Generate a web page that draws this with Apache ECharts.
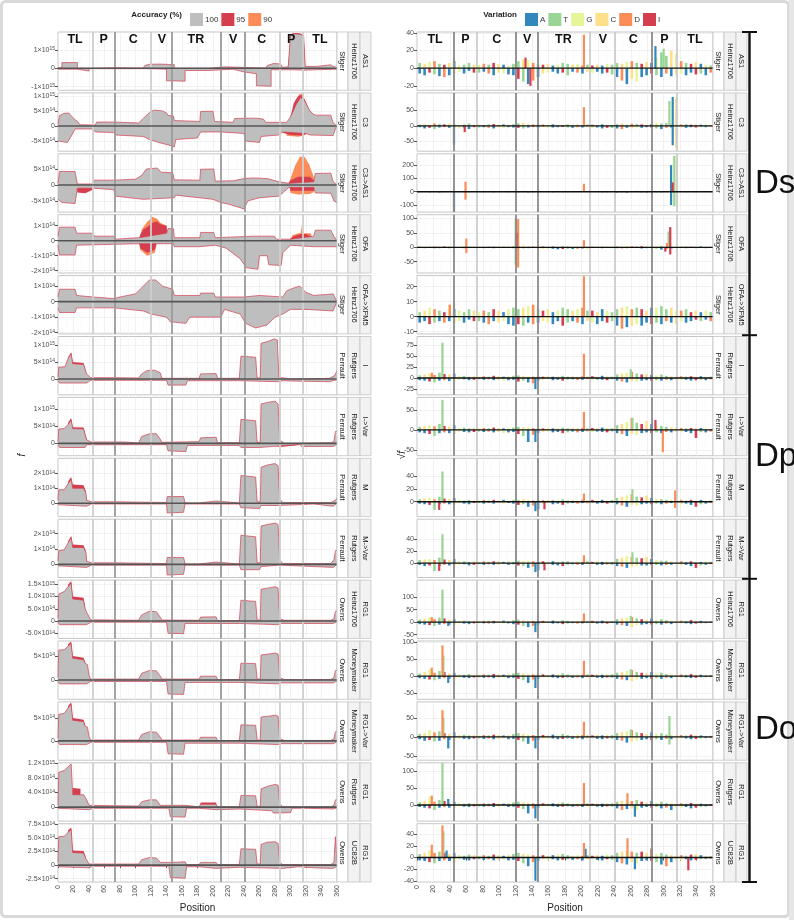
<!DOCTYPE html>
<html><head><meta charset="utf-8">
<script src="https://cdn.jsdelivr.net/npm/echarts@6/dist/echarts.min.js"></script>
<style>html,body{margin:0;padding:0;background:#fff}#c{width:794px;height:920px}</style>
</head><body><div id="c"></div><script>
// ---------------- DATA ----------------
const stripInner = ['Stiger','Stiger','Stiger','Stiger','Stiger','Perrault','Perrault','Perrault','Perrault','Owens','Owens','Owens','Owens','Owens'];
const stripMid = ['Heinz1706','Heinz1706','Heinz1706','Heinz1706','Heinz1706','Rutgers','Rutgers','Rutgers','Rutgers','Heinz1706','Moneymaker','Moneymaker','Rutgers','UC82B'];
const stripOuter = ['AS1','C3','C3->AS1','OFA','OFA->XFM5','I','I->Var','M','M->Var','RG1','RG1','RG1->Var','RG1','RG1'];
const groupNames = ['Ds','Dp','Do'];
const groupSizes = [5,4,5];
const regionNames = ['TL','P','C','V','TR','V','C','P','TL'];
const regionCenters = [22,59,97,134,178,226,263,301,338];
const boundsDarkL = [73,147,210,241], boundsLightL = [45,120,286,316];
const boundsDarkR = [45,120,147,286], boundsLightR = [73,210,241,316];
const accuracyLevels = ['100','95','90'];
const variationTypes = ['A','T','G','C','D','I'];

// left panels: f in units of 1e14
const leftRange = [[-12,19.8],[-8.4,11],[-8.5,9.75],[-2.15,1.73],[-2.08,1.68],[-4.65,12.5],[-3.6,13.4],[-0.89,3.0],[-0.86,2.95],[-7.1,16.7],[-4.0,8.1],[-4.2,8.5],[-3.8,12.1],[-3.1,7.6]];
const leftTickVals = [[-10,0,10],[-5,0,5,10],[-5,0,5],[-2,-1,0,1],[-2,-1,0,1],[0,5,10],[0,5,10],[0,1,2],[0,1,2],[-5,0,5,10,15],[0,5],[0,5],[0,4,8,12],[-2.5,0,2.5,5,7.5]];
const leftTickText = [
 ['-1×10^15','0','1×10^15'],['-5×10^14','0','5×10^14','1×10^15'],['-5×10^14','0','5×10^14'],
 ['-2×10^14','-1×10^14','0','1×10^14'],['-2×10^14','-1×10^14','0','1×10^14'],
 ['0','5×10^14','1×10^15'],['0','5×10^14','1×10^15'],['0','1×10^14','2×10^14'],['0','1×10^14','2×10^14'],
 ['-5.0×10^14','0','5.0×10^14','1.0×10^15','1.5×10^15'],['0','5×10^14'],['0','5×10^14'],
 ['0','4.0×10^14','8.0×10^14','1.2×10^15'],['-2.5×10^14','0','2.5×10^14','5.0×10^14','7.5×10^14']];

const upper100 = [
 [[0,0.3],[5,0.3],[5,3.1],[25,3.1],[25,0],[40,0],[40,0.3],[75,0.3],[75,0.1],[110,0.1],[112,1.5],[118,2.2],[130,2.3],[150,2.0],[150,0],[195,0],[195,0.8],[215,0.8],[215,0.1],[268,0.1],[270,1.5],[278,2.6],[287,2.4],[290,0.5],[297,0.8],[300,18],[304,18.8],[312,18.6],[317,17.5],[319,1.0],[333,1.0],[333,1.8],[352,1.9],[355,1.0],[358,0.8],[360,0]],
 [[0,0.5],[2,3.5],[8,4.2],[14,4.3],[20,2.5],[26,1.3],[28,0.4],[48,0.3],[50,1.3],[72,1.3],[74,0.9],[104,1.0],[110,2.5],[118,4.5],[124,5.3],[135,5.0],[140,4.3],[142,3.5],[149,3.3],[150,1.8],[183,1.5],[184,4.8],[200,4.9],[202,1.5],[226,1.2],[228,2.5],[252,2.6],[255,2.6],[265,2.3],[268,1.2],[295,1.2],[300,3],[307,7],[313,9.5],[318,8.5],[325,5],[330,3.8],[333,3.6],[352,3.6],[355,1],[358,0.5],[360,0]],
 [[0,0.5],[2,4.2],[22,4.2],[25,0.3],[45,0.3],[47,1.5],[72,1.5],[100,1.8],[108,3],[114,5],[128,5.3],[133,4],[148,3.8],[150,1.6],[183,1.5],[184,4.9],[201,5.0],[203,1.2],[226,1.3],[240,2],[252,2.2],[270,2],[285,1],[298,0.5],[300,1],[330,1],[332,3.6],[352,3.7],[355,1.0],[360,0]],
 [[0,0.3],[2,0.9],[22,0.9],[24,0.5],[45,0.5],[47,0.3],[72,0.3],[74,0.1],[104,0.2],[140,0.5],[142,0.8],[149,0.8],[150,0.2],[183,0.2],[184,0.55],[201,0.55],[203,0.2],[252,0.3],[279,0.3],[282,0.1],[300,0.1],[330,0.3],[332,0.7],[352,0.7],[356,0.3],[360,0]],
 [[0,0.3],[2,0.8],[22,0.8],[24,0.4],[45,0.3],[72,0.2],[80,0.3],[100,0.5],[110,1.0],[118,1.4],[126,1.4],[135,1.0],[148,0.8],[150,0.4],[183,0.4],[184,0.55],[201,0.55],[203,0.3],[240,0.3],[260,0.4],[290,0.3],[295,0.7],[305,0.9],[312,1.0],[320,0.6],[330,0.4],[355,0.5],[360,0]],
 [[0,0.5],[1,3.5],[9,3.6],[13,6],[17,7.5],[19,7.8],[19,4.5],[33,4.3],[37,1.5],[42,0.4],[72,0.4],[74,0.3],[104,0.3],[108,1.5],[115,2.5],[125,2.6],[132,1.8],[134,0.2],[182,0.2],[184,1.5],[204,1.6],[206,0.2],[234,0.2],[236,6.7],[255,6.4],[257,0.3],[261,0.3],[262,10.5],[270,11],[279,11.8],[283,11.5],[285,0.5],[300,0],[350,0.2],[357,1],[360,2.5]],
 [[0,0.5],[1,4.2],[8,4.3],[13,5.5],[17,6.8],[19,7.2],[19,4.3],[33,4.2],[37,1.0],[43,0.4],[86,0.4],[88,0.1],[104,0.1],[108,2.0],[118,2.8],[127,2.8],[132,1.2],[134,0.3],[182,0.5],[184,1.6],[204,1.8],[206,0.2],[234,0.2],[236,7.0],[255,6.6],[257,0.3],[261,0.3],[262,11.5],[272,12],[280,12.3],[284,11.5],[286,1],[292,0],[312,0],[314,0.2],[352,0.2],[356,0.5],[358,3.5],[360,3.5]],
 [[0,0.2],[1,0.9],[8,0.9],[13,1.3],[17,1.6],[19,1.65],[19,1.0],[33,1.0],[36,0.7],[37,0.2],[43,0.1],[72,0.1],[74,0.05],[140,0.05],[141,0.45],[162,0.45],[164,0.02],[182,0.02],[184,0.15],[204,0.15],[206,0.02],[234,0.02],[236,1.85],[255,1.75],[257,0.1],[261,0.1],[262,2.4],[270,2.55],[280,2.65],[284,2.5],[286,0.3],[290,0.05],[352,0.05],[358,0.2],[360,0.35]],
 [[0,0.2],[1,0.9],[8,0.95],[13,1.4],[17,1.75],[19,1.8],[19,1.1],[33,1.1],[36,0.8],[37,0.2],[43,0.1],[72,0.1],[74,0.05],[140,0.05],[141,0.45],[162,0.45],[164,0.02],[182,0.02],[184,0.15],[204,0.15],[206,0.02],[234,0.02],[236,1.9],[255,1.8],[257,0.1],[261,0.1],[262,2.5],[270,2.6],[280,2.7],[284,2.6],[286,0.3],[290,0.05],[352,0.05],[356,0.3],[358,0.9],[360,0.9]],
 [[0,1],[1,11],[8,12],[13,14],[17,15.5],[19,16],[19,9],[33,8.5],[35,5],[38,3],[42,0.5],[72,0.4],[104,0.3],[108,2.5],[118,4],[127,3.8],[132,1.5],[134,0.4],[182,0.3],[184,1.6],[204,1.7],[206,0.2],[234,0.2],[236,8.5],[255,8],[257,0.4],[261,0.4],[262,13],[272,13.5],[280,14],[284,13.5],[286,1],[292,0.3],[352,0.3],[356,1],[358,4],[360,4]],
 [[0,0.5],[1,6.2],[8,6.3],[13,7],[17,7.6],[19,7.9],[19,4.5],[33,4.2],[35,3.5],[38,3.2],[40,1],[42,0.2],[104,0.2],[108,1.4],[118,2],[127,1.9],[132,0.8],[134,0.2],[182,0.2],[184,0.8],[204,0.8],[206,0.1],[234,0.1],[236,3.5],[255,3.4],[257,0.2],[261,0.2],[262,5.2],[272,5.4],[280,5.6],[284,5.4],[286,0.5],[292,0.1],[352,0.1],[356,0.5],[358,2],[360,2]],
 [[0,0.5],[1,5.8],[8,6.0],[13,7.2],[17,8.0],[19,8.4],[19,4.5],[33,4.2],[35,3.2],[38,3.0],[40,1],[42,0.2],[104,0.2],[108,1.4],[118,2],[127,1.9],[132,0.8],[134,0.2],[182,0.2],[184,0.8],[204,0.8],[206,0.1],[234,0.1],[236,3.5],[255,3.4],[257,0.2],[261,0.2],[262,5.2],[272,5.4],[280,5.6],[284,5.4],[286,0.5],[292,0.1],[352,0.1],[356,0.5],[358,2],[360,2]],
 [[0,0.5],[1,9.5],[8,10],[13,11],[17,11.8],[19,12],[19,3.4],[33,3.4],[37,2],[40,0.5],[104,0.3],[108,1.5],[118,2],[127,2],[132,0.5],[164,0.5],[166,0.1],[182,0.1],[184,0.8],[204,0.8],[206,0.1],[234,0.1],[236,3.2],[255,3.1],[257,0.2],[261,0.2],[262,5.0],[272,5.8],[280,6.2],[284,6.0],[286,1],[290,0.1],[352,0.1],[356,0.5],[358,2],[360,2]],
 [[0,0.5],[1,5.2],[8,5.3],[13,6],[17,6.6],[19,6.8],[19,2.3],[33,2.2],[36,1.2],[40,0.2],[104,0.2],[108,1.0],[118,1.4],[127,1.3],[132,0.5],[143,0.5],[145,0.6],[164,0.6],[166,0.1],[182,0.1],[184,0.5],[204,0.5],[206,0.1],[234,0.1],[236,3.0],[255,2.9],[257,0.2],[261,0.2],[262,3.8],[270,4.2],[280,4.3],[284,4.0],[286,0.5],[290,0.1],[352,0.1],[356,0.5],[358,5.2],[359,5.2],[360,0.5]]
];
const lower100 = [
 [[0,-0.5],[25,-0.5],[25,-1.5],[40,-1.5],[40,-0.2],[110,-0.2],[125,-0.3],[140,-0.5],[140,-6.8],[164,-7.0],[164,-1.2],[195,-1.2],[195,-0.3],[226,-0.5],[240,-2.0],[256,-3.0],[256,-9.5],[275,-9.8],[275,-0.8],[300,-0.8],[300,-1.2],[318,-1.0],[333,-0.8],[360,-0.5]],
 [[0,-5.0],[12,-5.5],[18,-3],[22,-1],[45,-1],[48,-2],[72,-2.2],[74,-3],[110,-3.5],[118,-4.5],[130,-5.5],[145,-6.5],[150,-7],[152,-4.5],[180,-4],[184,-2],[210,-2],[240,-2.5],[242,-5],[260,-5.5],[262,-3.5],[285,-3],[290,-2],[320,-2.5],[325,-3],[355,-3.2],[358,-1],[360,0]],
 [[0,-4.5],[5,-5.5],[22,-5.8],[25,-1.0],[45,-1.0],[47,-1.5],[72,-1.5],[74,-3.5],[110,-4.5],[150,-4],[152,-3.2],[200,-4.5],[210,-5.5],[220,-6],[240,-7.5],[245,-5],[260,-4],[285,-3.5],[298,-0.8],[330,-0.8],[332,-2.5],[352,-2.6],[356,-5],[360,-5.5]],
 [[0,-0.3],[2,-0.95],[22,-0.95],[24,-0.3],[104,-0.2],[149,-0.2],[150,-0.4],[183,-0.4],[203,-0.3],[217,-0.5],[235,-1.2],[243,-1.8],[258,-1.9],[260,-1.0],[270,-1.0],[272,-1.6],[288,-1.65],[290,-0.8],[300,-0.3],[330,-0.4],[360,-0.4]],
 [[0,-0.4],[2,-0.7],[22,-0.7],[24,-0.4],[72,-0.4],[74,-0.5],[110,-0.6],[120,-0.8],[140,-1.0],[145,-1.3],[165,-1.4],[170,-1.0],[210,-1.0],[215,-0.5],[235,-0.8],[242,-1.4],[255,-1.7],[270,-1.5],[280,-1.0],[290,-0.8],[300,-0.5],[320,-0.5],[355,-0.6],[360,0]],
 [[0,-0.5],[2,-1.2],[37,-1.2],[42,-0.4],[140,-0.4],[142,-1.8],[165,-1.8],[167,-0.5],[234,-0.5],[236,-1.0],[285,-0.8],[290,-0.5],[300,-0.6],[350,-0.8],[360,-0.2]],
 [[0,-0.5],[2,-1.2],[35,-1.2],[37,-0.4],[140,-0.4],[142,-2.2],[165,-2.4],[167,-0.6],[234,-0.6],[236,-1.2],[260,-1.2],[262,-0.8],[284,-0.8],[286,-0.3],[312,-0.3],[314,-0.9],[355,-0.9],[360,-0.2]],
 [[0,-0.1],[2,-0.2],[37,-0.2],[43,-0.05],[140,-0.05],[141,-0.65],[162,-0.6],[164,-0.05],[234,-0.05],[236,-0.3],[260,-0.35],[262,-0.15],[284,-0.15],[286,-0.05],[330,-0.05],[332,-0.15],[355,-0.2],[360,0]],
 [[0,-0.1],[2,-0.2],[37,-0.2],[43,-0.05],[140,-0.05],[141,-0.7],[162,-0.65],[164,-0.05],[234,-0.05],[236,-0.35],[260,-0.35],[262,-0.15],[286,-0.05],[355,-0.2],[360,0]],
 [[0,-0.5],[2,-1.5],[37,-1.5],[42,-0.5],[140,-0.5],[142,-5],[162,-5.2],[164,-1],[234,-1],[236,-1.5],[284,-1.5],[288,-1],[355,-1],[360,-0.3]],
 [[0,-0.3],[2,-0.8],[37,-0.8],[42,-0.3],[140,-0.3],[142,-2.9],[162,-3.0],[164,-0.5],[234,-0.5],[236,-0.8],[284,-0.8],[288,-0.6],[355,-0.6],[360,-0.2]],
 [[0,-0.3],[2,-0.8],[37,-0.8],[42,-0.3],[140,-0.3],[142,-2.8],[162,-2.9],[164,-0.5],[234,-0.5],[236,-0.8],[284,-0.8],[288,-0.6],[355,-0.6],[360,-0.2]],
 [[0,-0.3],[2,-0.7],[40,-0.7],[45,-0.3],[143,-0.3],[145,-2.6],[164,-2.7],[166,-0.3],[182,-0.3],[184,-0.7],[204,-0.7],[206,-0.5],[234,-0.5],[236,-0.7],[260,-0.8],[262,-1.0],[276,-1.0],[278,-1.6],[300,-1.5],[302,-0.3],[320,-0.3],[322,-0.5],[355,-0.5],[360,-0.2]],
 [[0,-0.3],[2,-0.5],[40,-0.5],[45,-0.2],[143,-0.2],[145,-2.3],[164,-2.4],[166,-0.3],[182,-0.3],[184,-0.6],[204,-0.6],[206,-0.4],[234,-0.4],[236,-0.5],[260,-0.5],[262,-0.6],[290,-0.6],[292,-0.5],[310,-0.3],[330,-0.5],[332,-0.6],[355,-0.6],[360,-0.2]]
];
const upper95 = [
 [[297,0.8],[300,18.4],[304,19.3],[312,19.1],[317,18],[319,1]],
 [[300,3],[304,7.5],[310,10.0],[314,10.3],[318,9],[325,5],[330,3.8]],
 [[296,0],[298,0.8],[300,1.5],[310,2.6],[325,2.6],[330,1.5],[332,0]],
 [[104,0],[106,0.4],[110,0.75],[116,0.95],[122,1.2],[128,1.3],[132,1.1],[140,1.0],[142,0],[298,0],[300,0.15],[304,0.3],[310,0.4],[313,0.45],[320,0.45],[326,0.3],[330,0]],
 null,
 [[12,0],[13,6.3],[17,7.9],[19,8.3],[19,5.0],[33,4.7],[35,3],[37,1.5],[38,0]],
 [[12,0],[13,6.0],[17,7.4],[19,7.6],[19,4.7],[33,4.6],[37,1.2],[38,0]],
 [[12,0],[13,1.45],[17,1.75],[19,1.8],[19,1.25],[33,1.2],[36,0.8],[37,0]],
 [[12,0],[13,1.5],[17,1.85],[19,1.9],[19,1.3],[33,1.25],[36,0.85],[37,0]],
 [[12,0],[13,14.8],[17,16.3],[19,16.8],[19,10],[33,9.5],[35,5.5],[36,0]],
 [[12,0],[13,7.4],[17,8.0],[19,8.2],[19,5.0],[33,4.6],[35,3.8],[36,0]],
 [[12,0],[13,7.6],[17,8.4],[19,8.6],[19,5.0],[33,4.6],[35,3.5],[36,0],[300,0],[300,0.4],[318,0.4],[320,0]],
 [[18,0],[19,5.2],[29,5.0],[29,0],[183,0],[184,1.3],[204,1.3],[205,0]],
 [[12,0],[13,6.4],[17,6.9],[19,7.0],[19,2.7],[33,2.6],[36,1.4],[37,0]]
];
const lower95 = [null,
 [[288,0],[290,-2.3],[300,-3.0],[315,-3.2],[320,-2.8],[322,0]],
 [[24,0],[25,-2.4],[35,-2.6],[45,-1.5],[46,0],[298,0],[300,-1.8],[330,-1.8],[332,0]],
 [[104,0],[106,-0.5],[115,-0.8],[125,-0.6],[128,0]],
 null,null,
 [[282,0],[283,-1.0],[290,-1.0],[300,-0.8],[312,-0.5],[313,0]],
 null,null,null,null,null,null,null];
const upper90 = [null,
 [[304,0],[306,8.5],[312,10.6],[315,10.6],[318,9],[319,0]],
 [[298,0.5],[300,2],[306,6],[312,8.8],[318,8.8],[324,6.5],[330,2.5],[332,0]],
 [[106,0],[108,0.75],[115,1.25],[122,1.6],[128,1.45],[132,1.2],[140,1.0],[141,0],[300,0],[302,0.35],[310,0.5],[313,0.5],[314,1.05],[315,0.5],[326,0.5],[330,0]],
 null,null,null,null,null,null,null,null,null,null];
const lower90 = [null,
 [[294,0],[295,-3.3],[310,-3.6],[318,-3.2],[319,0]],
 [[299,0],[300,-2.5],[310,-3.0],[325,-2.8],[330,-2.2],[331,0]],
 [[105,0],[106,-0.6],[115,-1.0],[125,-0.8],[128,0]],
 null,null,null,null,null,null,null,null,null,null];

// right panels: sqrt(f) variation, binned every 6 positions
const binSize = 6;
const rightRange = [[-25,41],[-81,106],[-153,285],[-89,113],[-11.5,27.4],[-38,94],[-64,81],[-23.6,69],[-24,73],[-65,168],[-68,103],[-61,92],[-48,126],[-42,58]];
const rightTickVals = [[-20,0,20,40],[-50,0,50],[-100,0,100,200],[-50,0,50,100],[-10,0,10,20],[-25,0,25,50,75],[-50,0,50],[0,20,40],[0,20,40],[-50,0,50,100],[-50,0,50,100],[-50,0,50],[0,50,100],[-40,-20,0,20,40,60]];
const noiseUp = [
 [6,5,7,8,5,4,6,8, 3,4,6,4, 4,5,4,6,5,4,3,5, 8,10,9,6,5, 4,5,3,4,6,5,4,5,3,4, 3,4,3,5,4, 6,5,7,8,6,5,7,6, 12,18,14,20,16, 8,6,5,7,5,4,3],
 [4,6,5,8,6,5,7,4, 3,5,8,4, 4,3,5,6,4,5,4,6, 8,10,7,5,4, 4,3,5,4,3,5,4,6,3,5, 4,3,5,4,3, 6,8,5,7,6,5,4,6, 10,8,9,7,6, 5,6,4,5,4,5,3],
 [3,4,2,5,3,4,2,3, 2,3,2,4, 2,3,2,3,4,3,2,3, 6,8,5,4,3, 3,2,4,3,2,3,5,3,2,3, 2,3,2,3,2, 5,4,6,5,7,4,5,3, 4,5,3,4,3, 2,3,2,3,2,3,2],
 [3,2,4,3,2,3,4,2, 2,3,2,3, 2,2,3,2,3,2,3,4, 5,6,4,3,2, 3,2,3,2,4,3,2,3,2,2, 2,3,2,3,2, 4,3,5,4,3,4,3,2, 4,5,3,4,3, 2,3,2,2,3,2,2],
 [3,4,6,5,4,3,8,5, 4,3,5,4, 3,4,3,5,4,3,5,6, 5,6,7,8,5, 4,5,3,4,6,5,4,5,6,4, 4,3,5,4,3, 5,6,7,5,6,5,4,6, 6,7,5,6,4, 4,5,3,4,3,4,3],
 [6,8,10,7,12,9,8,10, 4,5,3,4, 3,4,3,5,4,3,4,5, 6,5,4,3,4, 3,4,3,4,5,3,4,3,4,3, 4,3,5,4,3, 8,10,12,14,10,8,9,7, 6,8,5,4,3, 4,3,4,3,4,3,3],
 [8,10,12,9,15,10,8,12, 5,6,4,5, 4,5,4,6,5,4,5,6, 8,7,6,5,4, 4,5,4,5,6,4,5,4,5,4, 5,4,6,5,4, 12,15,20,30,18,15,22,15, 12,10,8,6,5, 5,4,5,4,5,4,3],
 [4,5,6,4,8,5,4,6, 3,2,3,2, 2,3,2,3,2,3,2,3, 3,4,3,2,3, 2,3,2,3,4,2,3,2,3,2, 3,2,3,2,3, 6,8,10,12,8,7,10,6, 5,4,3,3,2, 3,2,3,2,3,2,2],
 [5,6,7,5,9,6,5,7, 3,3,2,3, 2,3,2,3,3,2,3,2, 4,3,4,3,2, 3,2,3,2,3,3,2,3,2,3, 2,3,2,3,2, 7,9,12,10,9,8,10,7, 5,4,4,3,2, 3,2,3,2,2,3,2],
 [10,15,20,12,18,15,10,12, 5,6,4,5, 4,5,6,5,4,6,5,8, 10,8,6,5,4, 5,4,6,5,8,5,4,6,5,4, 5,4,6,5,4, 12,15,18,20,15,12,10,15, 10,12,8,6,5, 6,5,8,6,5,4,3],
 [8,12,20,10,15,12,8,10, 5,4,6,4, 4,5,4,6,5,4,6,8, 10,8,6,5,4, 5,4,5,6,8,5,4,5,4,5, 4,5,4,6,5, 10,12,15,18,12,10,8,12, 8,10,6,5,4, 5,4,6,5,4,3,3],
 [8,10,18,12,15,10,8,12, 5,6,4,5, 4,5,4,6,5,4,5,8, 10,8,6,5,4, 5,4,6,5,8,5,4,6,5,4, 4,5,4,6,5, 10,12,15,18,12,10,8,12, 8,10,6,5,4, 5,4,6,5,4,3,3],
 [8,12,25,10,15,12,8,10, 5,4,6,4, 4,5,4,6,5,4,6,8, 10,8,6,5,4, 5,4,5,6,8,5,4,5,4,5, 4,5,4,6,5, 10,12,15,12,15,10,8,12, 8,10,6,5,4, 5,4,6,5,4,3,3],
 [6,8,12,8,10,8,6,8, 4,3,5,4, 3,4,3,5,4,3,5,6, 8,6,5,4,3, 4,3,4,5,6,4,3,4,3,4, 3,4,3,5,4, 8,10,12,10,8,10,8,15, 6,8,5,4,3, 4,3,5,6,4,3,2]
];
const noiseDown = [
 [-6,-8,-5,-7,-9,-10,-8,-6, -4,-6,-3,-5, -5,-4,-6,-8,-5,-6,-7,-8, -12,-15,-18,-14,-10, -6,-5,-4,-6,-5,-8,-4,-5,-6,-4, -5,-4,-6,-5,-7, -10,-14,-18,-12,-15,-10,-8,-6, -8,-10,-6,-9,-7, -6,-8,-5,-7,-6,-8,-5],
 [-4,-8,-6,-10,-5,-4,-6,-8, -8,-5,-10,-4, -5,-4,-6,-8,-5,-6,-4,-5, -6,-8,-5,-4,-5, -4,-6,-5,-4,-3,-5,-6,-4,-5,-4, -6,-5,-8,-6,-7, -8,-10,-6,-8,-5,-6,-4,-5, -8,-10,-6,-5,-4, -5,-6,-4,-5,-3,-4,-2],
 [-3,-2,-4,-3,-5,-3,-2,-3, -3,-2,-3,-2, -2,-3,-2,-4,-3,-2,-3,-2, -4,-3,-5,-4,-3, -2,-3,-4,-2,-3,-4,-2,-3,-2,-3, -3,-2,-4,-3,-2, -6,-5,-7,-6,-5,-4,-5,-3, -5,-4,-3,-4,-3, -2,-3,-2,-3,-2,-2,-3],
 [-2,-3,-2,-4,-3,-2,-3,-2, -2,-3,-2,-2, -2,-3,-2,-3,-2,-3,-2,-3, -3,-4,-3,-2,-3, -5,-6,-5,-7,-6,-5,-6,-5,-4,-5, -3,-2,-3,-2,-3, -3,-4,-3,-2,-3,-4,-3,-2, -5,-8,-6,-4,-3, -2,-3,-2,-3,-2,-3,-2],
 [-4,-3,-5,-4,-3,-4,-3,-5, -3,-4,-2,-3, -3,-4,-5,-3,-4,-3,-5,-6, -5,-6,-4,-5,-4, -3,-4,-5,-3,-6,-4,-3,-4,-5,-3, -4,-5,-3,-4,-3, -6,-8,-7,-6,-5,-6,-4,-5, -4,-5,-3,-4,-5, -3,-4,-3,-2,-3,-2,-3],
 [-5,-6,-8,-10,-6,-5,-7,-8, -4,-3,-5,-4, -3,-4,-3,-5,-4,-6,-5,-4, -8,-6,-10,-12,-6, -4,-3,-5,-4,-6,-4,-3,-5,-4,-3, -4,-3,-4,-5,-3, -6,-8,-10,-7,-8,-6,-5,-6, -5,-6,-4,-5,-4, -5,-4,-6,-5,-4,-5,-3],
 [-6,-8,-10,-15,-8,-6,-8,-10, -4,-5,-6,-5, -4,-5,-4,-6,-5,-8,-6,-5, -10,-15,-30,-12,-8, -5,-4,-6,-5,-8,-6,-4,-6,-5,-4, -5,-4,-5,-6,-4, -8,-10,-15,-10,-12,-8,-6,-8, -6,-8,-5,-6,-5, -6,-5,-8,-20,-5,-6,-4],
 [-3,-4,-5,-13,-4,-3,-4,-5, -2,-3,-4,-2, -2,-3,-2,-3,-2,-3,-2,-3, -5,-4,-8,-6,-12, -3,-2,-4,-3,-5,-3,-2,-3,-2,-3, -2,-3,-2,-3,-2, -4,-6,-8,-5,-6,-4,-3,-4, -3,-4,-3,-2,-3, -4,-3,-5,-8,-4,-3,-2],
 [-3,-5,-4,-13,-5,-3,-4,-5, -3,-2,-4,-3, -2,-3,-2,-3,-3,-2,-3,-2, -4,-5,-8,-6,-12, -3,-2,-3,-4,-5,-3,-2,-3,-3,-2, -2,-3,-3,-2,-3, -5,-6,-8,-6,-5,-4,-4,-3, -3,-4,-3,-3,-2, -4,-3,-5,-8,-4,-3,-2],
 [-8,-10,-12,-15,-10,-8,-10,-12, -5,-6,-8,-5, -4,-5,-6,-5,-4,-6,-5,-8, -10,-15,-20,-15,-10, -5,-4,-6,-5,-8,-6,-4,-6,-5,-4, -5,-6,-5,-6,-4, -10,-12,-15,-20,-12,-10,-8,-10, -8,-10,-6,-8,-5, -6,-5,-8,-6,-5,-4,-3],
 [-6,-8,-10,-12,-8,-6,-8,-10, -4,-5,-6,-4, -4,-5,-4,-6,-5,-4,-6,-5, -8,-12,-20,-10,-8, -4,-5,-4,-6,-5,-4,-5,-4,-6,-4, -4,-5,-6,-4,-5, -8,-10,-12,-15,-10,-8,-6,-8, -6,-8,-5,-6,-4, -5,-4,-6,-5,-4,-3,-3],
 [-6,-10,-8,-12,-10,-6,-8,-10, -4,-5,-6,-4, -4,-5,-4,-6,-5,-4,-6,-5, -8,-12,-18,-10,-8, -4,-5,-4,-6,-5,-4,-5,-4,-6,-4, -4,-5,-6,-4,-5, -8,-10,-15,-12,-10,-8,-6,-8, -6,-8,-5,-6,-4, -5,-4,-6,-5,-4,-3,-3],
 [-6,-8,-10,-15,-8,-6,-8,-10, -4,-5,-6,-4, -4,-5,-4,-6,-5,-4,-6,-5, -8,-12,-25,-10,-8, -4,-5,-4,-6,-5,-4,-5,-4,-6,-4, -4,-5,-6,-4,-5, -10,-15,-12,-10,-15,-8,-6,-8, -6,-10,-8,-15,-6, -8,-6,-10,-8,-6,-4,-3],
 [-5,-6,-8,-10,-6,-5,-6,-8, -3,-4,-5,-3, -3,-4,-3,-5,-4,-3,-5,-4, -6,-10,-15,-8,-6, -3,-4,-3,-5,-4,-3,-4,-3,-5,-3, -3,-4,-5,-3,-4, -8,-10,-12,-8,-10,-6,-5,-6, -8,-12,-15,-8,-5, -4,-3,-5,-4,-3,-2,-2]
];
const spikes = [
 [[203,38,'D'],[290,25,'A'],[300,22,'T'],[45,10,'T'],[138,-20,'I'],[132,12,'I']],
 [[203,60,'D'],[307,80,'T'],[311,93,'A'],[311,-62,'A'],[315,90,'C'],[315,-70,'C'],[45,-60,'A'],[58,-20,'I']],
 [[45,-150,'A'],[59,75,'D'],[59,-60,'D'],[203,60,'D'],[309,200,'A'],[309,-100,'A'],[311,70,'I'],[313,270,'T'],[313,-110,'T'],[316,260,'G'],[316,-100,'G']],
 [[60,30,'D'],[60,-20,'D'],[120,100,'T'],[120,-60,'T'],[121,50,'I'],[123,98,'D'],[123,-70,'D'],[203,25,'D'],[302,-15,'I'],[304,15,'D'],[306,55,'T'],[308,70,'I'],[308,-25,'I']],
 [[203,27,'D'],[45,9,'T'],[40,8,'D']],
 [[31,80,'T'],[203,55,'D'],[144,-25,'A'],[260,20,'T'],[18,12,'D']],
 [[31,75,'T'],[203,45,'D'],[299,-55,'D'],[144,-30,'A'],[262,30,'T'],[290,25,'I']],
 [[31,48,'T'],[203,13,'D'],[144,-15,'A'],[155,-12,'I'],[27,-13,'I'],[314,18,'D'],[314,-10,'D'],[262,20,'T']],
 [[31,48,'T'],[203,13,'D'],[144,-15,'A'],[155,-12,'I'],[27,-13,'I'],[262,18,'T']],
 [[31,130,'T'],[203,35,'D'],[144,-40,'A'],[260,25,'T'],[18,20,'D'],[38,-15,'A']],
 [[31,90,'D'],[32,60,'T'],[203,45,'D'],[144,-35,'A'],[260,20,'T'],[18,25,'D'],[38,-20,'A']],
 [[31,70,'D'],[32,50,'T'],[203,40,'D'],[144,-30,'A'],[38,-30,'A'],[307,55,'T'],[307,-20,'T'],[260,20,'T']],
 [[31,125,'T'],[203,66,'D'],[256,35,'D'],[265,-35,'A'],[144,-40,'A'],[18,28,'D'],[38,18,'A']],
 [[31,55,'D'],[32,45,'T'],[18,22,'D'],[36,12,'A'],[144,-40,'A'],[203,25,'D'],[205,15,'A'],[256,33,'D'],[265,-20,'A'],[285,15,'D'],[330,-22,'I']]
];

// ---------------- STYLE / LAYOUT ----------------
const FONT = '"Liberation Sans", Arial, Helvetica, sans-serif';
const N = 14, PITCH = 60.9, TOP0 = 32, PH = 58.3;
const LX = 58, LW = 279, RX = 417, RW = 296;
const ACC_COL = {'100':'#BEBEBE','95':'#D53E4F','90':'#FC8D59'};
const VC = {A:'#3288BD',T:'#99D594',G:'#E6F598',C:'#FEE08B',D:'#FC8D59',I:'#D53E4F'};
const upCycle = ['T','C','G','D','T','I','C','A','G','T'];
const dnCycle = ['A','A','I','T','A','D','A','C','G'];

const grids = [], xAxes = [], yAxes = [], series = [];
function addGrid(left, width, p) {
  const gi = grids.length;
  grids.push({left, width, top: TOP0 + p*PITCH, height: PH, show: true, borderColor: '#b5b5b5', borderWidth: 0.8, backgroundColor: '#fff', containLabel: false});
  const bottom = p === N-1;
  xAxes.push({type:'value', gridIndex: gi, min:0, max:360, interval:20,
    axisLine:{show:false}, axisTick:{show:bottom, length:3, lineStyle:{color:'#555'}},
    axisLabel:{show:bottom, rotate:90, fontSize:7, color:'#4d4d4d', margin:3, fontFamily: FONT},
    splitLine:{show:true, lineStyle:{color:'#e8e8e8', width:0.6}},
    minorTick:{show:false, splitNumber:2}, minorSplitLine:{show:true, lineStyle:{color:'#f4f4f4', width:0.5}},
    name: bottom ? 'Position' : '', nameLocation:'middle', nameGap:21, nameTextStyle:{fontSize:10, color:'#222', fontFamily: FONT}});
  return gi;
}
function zeroSeries(gi, color, width, dark, light, darkCol, lightCol) {
  return {type:'line', xAxisIndex:gi, yAxisIndex:gi, data:[[0,0],[360,0]], symbol:'none', silent:true, animation:false, z:6,
    lineStyle:{color, width}, tooltip:{show:false},
    markLine:{symbol:'none', silent:true, animation:false, label:{show:false},
      data: dark.map(x => ({xAxis:x, lineStyle:{color:darkCol, width:1.8, type:'solid'}}))
        .concat(light.map(x => ({xAxis:x, lineStyle:{color:lightCol, width:1.8, type:'solid'}})))}};
}
function areaSeries(name, data, gi, z, edge) {
  return {type:'line', name, xAxisIndex:gi, yAxisIndex:gi, data, symbol:'none', showSymbol:false, silent:true, animation:false, z,
    itemStyle:{color:ACC_COL[name]}, lineStyle: edge ? {color:edge, width:0.7} : {width:0, color:ACC_COL[name]},
    areaStyle:{color:ACC_COL[name], opacity:1}};
}
function sciRich(s) { return s.replace(/\^(-?\d+)/, '{e|$1}'); }

// left column
for (let p = 0; p < N; p++) {
  const gi = addGrid(LX, LW, p);
  const tv = leftTickVals[p], tt = leftTickText[p];
  yAxes.push({type:'value', gridIndex:gi, min:leftRange[p][0], max:leftRange[p][1],
    axisLine:{show:false},
    axisTick:{show:true, length:3, customValues:tv, lineStyle:{color:'#555'}},
    axisLabel:{fontSize:7, color:'#4d4d4d', margin:3, fontFamily:FONT, customValues:tv,
      formatter: v => { const k = tv.findIndex(t => Math.abs(t - v) < 1e-6); return k < 0 ? '' : sciRich(tt[k]); },
      rich:{e:{fontSize:5, color:'#4d4d4d', verticalAlign:'top', fontFamily:FONT}}},
    splitLine:{show:true, lineStyle:{color:'#e8e8e8', width:0.6}}});
  if (upper90[p]) series.push(areaSeries('90', upper90[p], gi, 2));
  if (lower90[p]) series.push(areaSeries('90', lower90[p], gi, 2));
  if (upper95[p]) series.push(areaSeries('95', upper95[p], gi, 3));
  if (lower95[p]) series.push(areaSeries('95', lower95[p], gi, 3));
  series.push(areaSeries('100', upper100[p], gi, 4, '#D53E4F'));
  series.push(areaSeries('100', lower100[p], gi, 4, '#D53E4F'));
  series.push(zeroSeries(gi, '#555', 1.6, boundsDarkL, boundsLightL, '#9a9a9a', '#cfcfcf'));
}
// right column
for (let p = 0; p < N; p++) {
  const gi = addGrid(RX, RW, p);
  const tv = rightTickVals[p];
  yAxes.push({type:'value', gridIndex:gi, min:rightRange[p][0], max:rightRange[p][1],
    axisLine:{show:false},
    axisTick:{show:true, length:3, customValues:tv, lineStyle:{color:'#555'}},
    axisLabel:{fontSize:7, color:'#4d4d4d', margin:3, fontFamily:FONT, customValues:tv,
      formatter: v => tv.some(t => Math.abs(t - v) < 1e-6) ? String(v) : ''},
    splitLine:{show:true, lineStyle:{color:'#e8e8e8', width:0.6}}});
  const noise = {}, sp = {};
  variationTypes.forEach(t => { noise[t] = []; sp[t] = []; });
  noiseUp[p].forEach((v, i) => noise[upCycle[i % upCycle.length]].push([i*binSize + binSize/2, v]));
  noiseDown[p].forEach((v, i) => noise[dnCycle[i % dnCycle.length]].push([i*binSize + binSize/2, v]));
  spikes[p].forEach(s => sp[s[2]].push([s[0], s[1]]));
  variationTypes.forEach(t => {
    series.push({type:'bar', name:t, xAxisIndex:gi, yAxisIndex:gi, data:noise[t], barWidth:2.6, barGap:'-100%',
      itemStyle:{color:VC[t]}, silent:true, animation:false, z:2});
  });
  variationTypes.forEach(t => {
    if (sp[t].length) series.push({type:'bar', name:t, xAxisIndex:gi, yAxisIndex:gi, data:sp[t], barWidth:2.2, barGap:'-100%',
      itemStyle:{color:VC[t]}, silent:true, animation:false, z:3});
  });
  series.push(zeroSeries(gi, '#111', 1.3, boundsDarkR, boundsLightR, '#8a8a8a', '#cccccc'));
}

// ---------------- GRAPHIC ----------------
const elements = [];
elements.push({type:'rect', shape:{x:1.5, y:1.5, width:787, height:915, r:4}, style:{fill:'transparent', stroke:'#d9d9d9', lineWidth:3}, silent:true, z:0});
elements.push({type:'rect', shape:{x:789, y:0, width:5, height:920}, style:{fill:'#e6e6e6'}, silent:true, z:0});
for (let p = 0; p < N; p++) {
  const top = TOP0 + p*PITCH;
  [LX + LW, RX + RW].forEach(x0 => {
    const cols = [[x0, 11, stripInner[p], '#ffffff'], [x0 + 11, 12, stripMid[p], '#f2f2f2'], [x0 + 23, 11, stripOuter[p], '#f2f2f2']];
    cols.forEach(c => {
      elements.push({type:'rect', shape:{x:c[0], y:top, width:c[1], height:PH}, style:{fill:c[3], stroke:'#c4c4c4', lineWidth:0.8}, silent:true, z:10});
      elements.push({type:'text', x:c[0] + c[1]/2, y:top + PH/2, rotation:-Math.PI/2, silent:true, z:11,
        style:{text:c[2], fontSize:7.5, fontFamily:FONT, fill:'#1a1a1a', align:'center', verticalAlign:'middle'}});
    });
  });
}
const BX = 749.5;
const yTop = TOP0, yBot = TOP0 + (N-1)*PITCH + PH;
elements.push({type:'line', shape:{x1:BX, y1:yTop, x2:BX, y2:yBot}, style:{stroke:'#111', lineWidth:2.4}, silent:true, z:10});
let acc = 0;
const tickYs = [yTop];
groupSizes.forEach((g, k) => {
  const y0 = k === 0 ? yTop : TOP0 + acc*PITCH - (PITCH - PH)/2;
  acc += g;
  const y1 = k === groupSizes.length - 1 ? yBot : TOP0 + acc*PITCH - (PITCH - PH)/2;
  tickYs.push(y1);
  elements.push({type:'text', x:755, y:(y0 + y1)/2, silent:true, z:10,
    style:{text:groupNames[k], fontSize:33, fontFamily:FONT, fill:'#111', align:'left', verticalAlign:'middle'}});
});
tickYs.forEach(y => elements.push({type:'line', shape:{x1:742, y1:y, x2:757, y2:y}, style:{stroke:'#111', lineWidth:2}, silent:true, z:10}));
elements.push({type:'text', x:182, y:15, silent:true, style:{text:'Accuracy (%)', fontSize:8, fontWeight:'bold', fontFamily:FONT, fill:'#222', align:'right', verticalAlign:'middle'}});
elements.push({type:'text', x:517, y:15, silent:true, style:{text:'Variation', fontSize:8, fontWeight:'bold', fontFamily:FONT, fill:'#222', align:'right', verticalAlign:'middle'}});
elements.push({type:'text', x:22, y:455, rotation:Math.PI/2, silent:true, style:{text:'f', fontSize:10, fontStyle:'italic', fontFamily:FONT, fill:'#222', align:'center', verticalAlign:'middle'}});
elements.push({type:'text', x:402, y:455, rotation:Math.PI/2, silent:true, style:{text:'√f', fontSize:10, fontStyle:'italic', fontFamily:FONT, fill:'#222', align:'center', verticalAlign:'middle'}});

const chart = echarts.init(document.getElementById('c'), null, {renderer:'canvas'});
chart.setOption({
  animation:false,
  textStyle:{fontFamily:FONT},
  legend:[
    {left:185, top:8, itemWidth:13, itemHeight:13, itemGap:3, icon:'rect', selectedMode:false, data:accuracyLevels,
      textStyle:{fontSize:8, color:'#333', padding:[0,0,0,-3]}},
    {left:520, top:8, itemWidth:13, itemHeight:13, itemGap:3, icon:'rect', selectedMode:false, data:variationTypes,
      textStyle:{fontSize:8, color:'#333', padding:[0,0,0,-3]}}
  ],
  grid:grids, xAxis:xAxes, yAxis:yAxes, series,
  graphic:{elements}
});
const regionEls = [];
regionNames.forEach((nm, k) => {
  [0, N].forEach(gi => {
    const x = chart.convertToPixel({xAxisIndex:gi}, regionCenters[k]);
    regionEls.push({type:'text', x, y:TOP0 + 8, silent:true, z:20,
      style:{text:nm, fontSize:12.5, fontWeight:'bold', fontFamily:FONT, fill:'#111', align:'center', verticalAlign:'middle'}});
  });
});
chart.setOption({graphic:{elements: elements.concat(regionEls)}}, {replaceMerge:['graphic']});
</script></body></html>
